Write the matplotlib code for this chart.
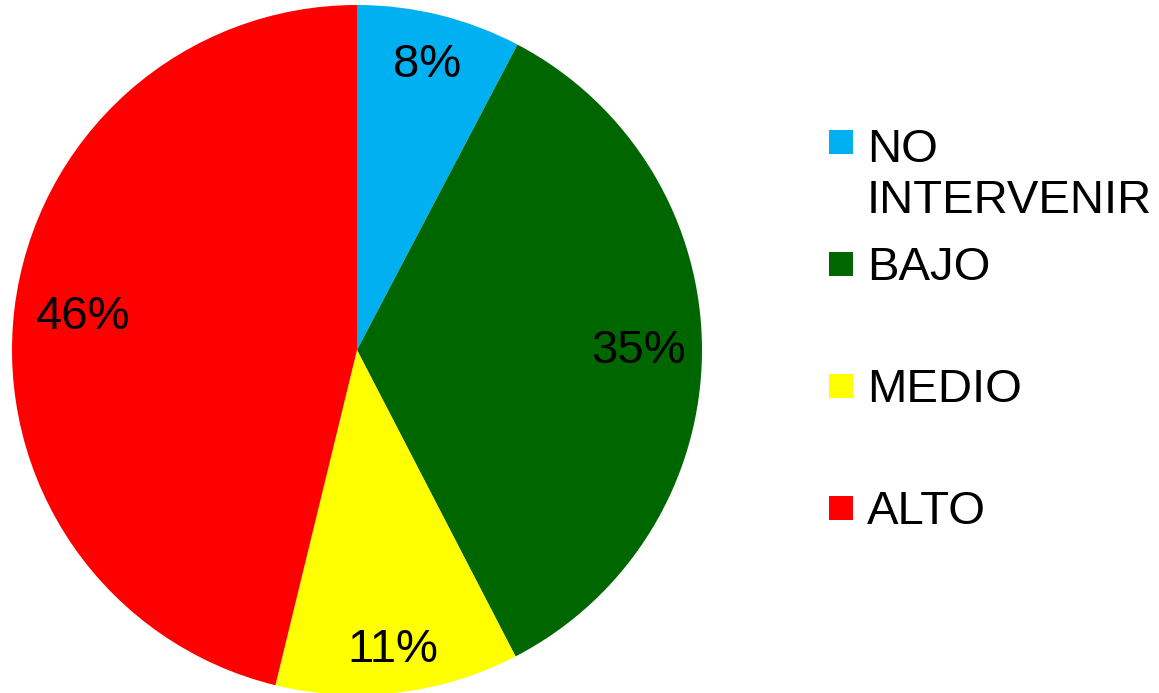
import matplotlib
matplotlib.use('Agg')
import matplotlib.pyplot as plt
from matplotlib.patches import Rectangle

# shares (slice sizes) and the printed labels
categories = ['NO\nINTERVENIR', 'BAJO', 'MEDIO', 'ALTO']
shares = [7.7, 34.7, 11.4, 46.2]
pct_labels = ['8%', '35%', '11%', '46%']
colors = ['#00B0F0', '#006600', '#FFFF00', '#FF0000']
# how far out each percentage sits (fraction of radius), as in the picture
label_dist = [0.85, 0.815, 0.875, 0.80]

plt.rcParams['font.family'] = ['Liberation Sans', 'DejaVu Sans']

W, H = 1159, 693
fig = plt.figure(figsize=(W / 100, H / 100), dpi=100)

# pie centred at (357, 350) px with radius 345 px
cx, cy, r = 357, 350, 345
ax = fig.add_axes([(cx - r) / W, (H - cy - r) / H, 2 * r / W, 2 * r / H])
wedges, texts, autotexts = ax.pie(shares, colors=colors, startangle=90, counterclock=False,
                                  autopct='%1.0f%%', pctdistance=1.0,
                                  textprops={'fontsize': 34, 'color': 'black'})
for t, lab, d in zip(autotexts, pct_labels, label_dist):
    x, y = t.get_position()
    t.set_position((x * d, y * d))
    t.set_text(lab)
ax.set_xlim(-1, 1)
ax.set_ylim(-1, 1)
ax.set_aspect('equal')
ax.axis('off')

# hand-made legend: square marker + text, first line aligned with marker
leg_x = 829
txt_x = 867
y0 = 142
step = 122
line_h = 55
for i, (lab, col) in enumerate(zip(categories, colors)):
    yc = y0 + step * i
    fig.patches.append(Rectangle((leg_x / W, (H - yc - 12) / H), 24 / W, 24 / H,
                                 facecolor=col, edgecolor='none',
                                 transform=fig.transFigure, figure=fig))
    extra = lab.count('\n')
    # va='baseline' sits on the last line, so push down for extra lines
    fig.text(txt_x / W, (H - yc - 16 - line_h * extra) / H, lab, fontsize=34,
             color='black', va='baseline', ha='left', linespacing=1.2)

fig.savefig('out.png', dpi=100)
